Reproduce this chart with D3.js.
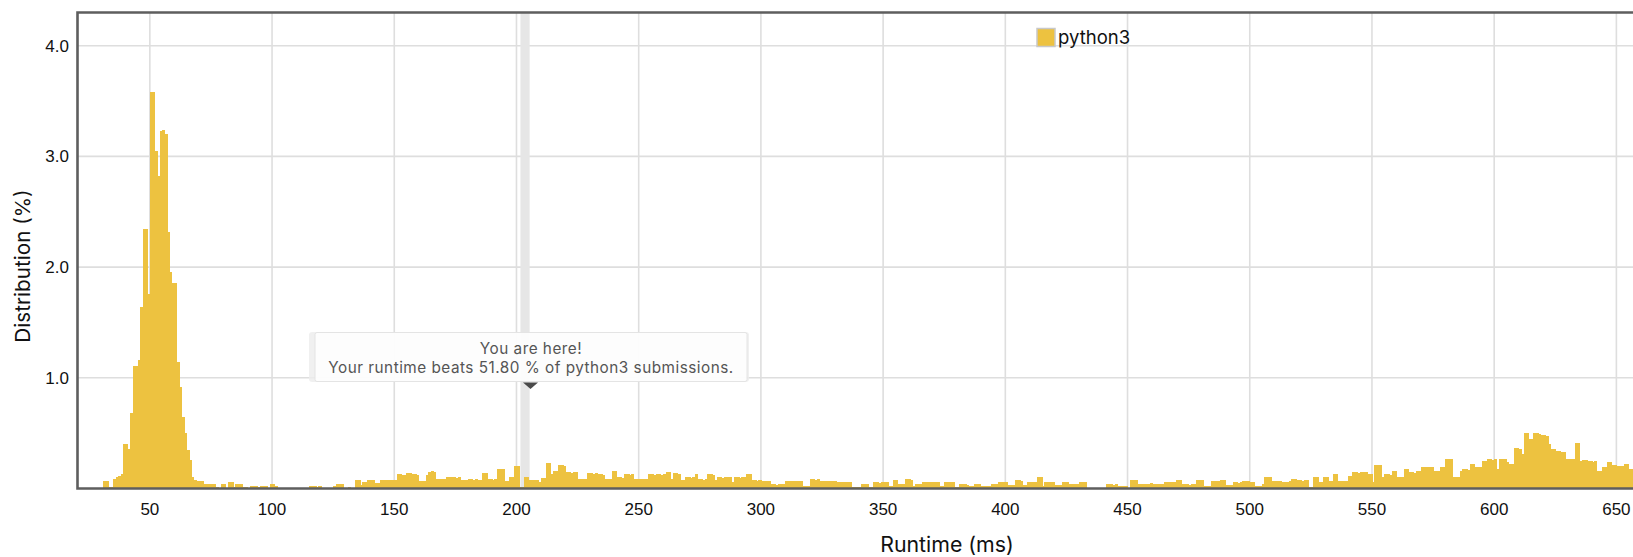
<!DOCTYPE html>
<html>
<head>
<meta charset="utf-8">
<script src="https://cdn.jsdelivr.net/npm/d3@7/dist/d3.min.js"></script>
<style>
  body { margin: 0; background: #fff; }
  svg { display: block; font-family: Inter, "Helvetica Neue", Arial, sans-serif; }
  .num { font-family: "Helvetica Neue", Helvetica, Arial, "Liberation Sans", sans-serif; }
</style>
</head>
<body>
<svg id="chart" width="1633" height="557"></svg>
<script>
// runtime distribution (% of submissions), one value per ms starting at 30 ms
const firstRuntime = 30;
const distribution = [
  0, 0.066, 0.066, 0.015, 0.015, 0.09, 0.1, 0.11, 0.135, 0.405,
  0.405, 0.355, 0.68, 1.11, 1.11, 1.16, 1.64, 2.34, 2.34, 1.76,
  3.58, 3.58, 3.05, 2.82, 3.23, 3.24, 3.2, 2.32, 1.96, 1.86,
  1.86, 1.14, 0.92, 0.65, 0.5, 0.345, 0.255, 0.1, 0.08, 0.07,
  0.07, 0.07, 0.045, 0.045, 0.04, 0.045, 0.045, 0.01, 0, 0.04,
  0.04, 0, 0.06, 0.06, 0.015, 0.04, 0.04, 0.04, 0.015, 0.015,
  0, 0.02, 0.02, 0.02, 0.015, 0.02, 0.02, 0.02, 0, 0.04,
  0.04, 0.02, 0, 0, 0, 0, 0, 0, 0, 0,
  0, 0, 0, 0, 0, 0.02, 0.02, 0.02, 0.015, 0.02,
  0, 0, 0, 0, 0, 0.02, 0.04, 0.04, 0.04, 0,
  0, 0.015, 0, 0, 0.08, 0.08, 0.033, 0.06, 0.06, 0.08,
  0.08, 0.075, 0.05, 0.05, 0.08, 0.075, 0.08, 0.08, 0.075, 0.08,
  0.08, 0.13, 0.13, 0.125, 0.12, 0.14, 0.14, 0.13, 0.13, 0.125,
  0.07, 0.07, 0.07, 0.12, 0.15, 0.155, 0.15, 0.09, 0.09, 0.09,
  0.085, 0.1, 0.1, 0.1, 0.1, 0.095, 0.1, 0.08, 0.08, 0.075,
  0.085, 0.085, 0.08, 0.085, 0.078, 0.08, 0.14, 0.14, 0.085, 0.085,
  0.08, 0.085, 0.18, 0.18, 0.175, 0.07, 0.07, 0.1, 0.1, 0.2,
  0.2, 0.01, 0.01, 0.1, 0.1, 0.08, 0.08, 0.075, 0.08, 0.06,
  0.095, 0.095, 0.23, 0.23, 0.13, 0.16, 0.16, 0.21, 0.21, 0.205,
  0.145, 0.145, 0.14, 0.145, 0.145, 0.09, 0.09, 0.085, 0.09, 0.14,
  0.14, 0.135, 0.14, 0.13, 0.13, 0.125, 0.09, 0.09, 0.09, 0.16,
  0.16, 0.1, 0.1, 0.095, 0.13, 0.13, 0.125, 0.13, 0.09, 0.09,
  0.085, 0.09, 0.09, 0.09, 0.13, 0.13, 0.125, 0.13, 0.13, 0.125,
  0.13, 0.145, 0.145, 0.085, 0.14, 0.14, 0.135, 0.075, 0.075, 0.1,
  0.1, 0.095, 0.1, 0.13, 0.085, 0.085, 0.08, 0.085, 0.13, 0.13,
  0.125, 0.075, 0.1, 0.1, 0.095, 0.1, 0.1, 0.1, 0.063, 0.1,
  0.1, 0.095, 0.1, 0.1, 0.13, 0.13, 0.075, 0.075, 0.07, 0.075,
  0.07, 0.07, 0.065, 0.07, 0.04, 0.04, 0.035, 0.04, 0.04, 0.04,
  0.07, 0.07, 0.07, 0.065, 0.07, 0.07, 0.07, 0.025, 0.025, 0.02,
  0.085, 0.085, 0.08, 0.085, 0.07, 0.07, 0.065, 0.07, 0.07, 0.065,
  0.07, 0.06, 0.06, 0.055, 0.06, 0.06, 0.06, 0.015, 0.015, 0.015,
  0.015, 0.04, 0.04, 0.04, 0.015, 0.015, 0.055, 0.055, 0.05, 0.055,
  0.055, 0.055, 0.025, 0.025, 0.075, 0.075, 0.04, 0.04, 0.04, 0.085,
  0.085, 0.08, 0.025, 0.04, 0.04, 0.04, 0.063, 0.063, 0.06, 0.063,
  0.06, 0.06, 0.06, 0.025, 0.025, 0.06, 0.06, 0.055, 0.06, 0.01,
  0.01, 0.04, 0.04, 0.04, 0.035, 0.025, 0.025, 0.04, 0.04, 0.04,
  0.02, 0.02, 0.02, 0.02, 0.045, 0.045, 0.045, 0.06, 0.06, 0.055,
  0.06, 0.033, 0.033, 0.03, 0.075, 0.075, 0.07, 0.033, 0.033, 0.06,
  0.06, 0.055, 0.06, 0.105, 0.105, 0.025, 0.063, 0.063, 0.06, 0.063,
  0.033, 0.033, 0.03, 0.055, 0.055, 0.055, 0.04, 0.04, 0.04, 0.04,
  0.06, 0.06, 0.06, 0, 0, 0, 0, 0, 0, 0,
  0, 0.04, 0.04, 0.04, 0.035, 0.04, 0.025, 0.025, 0.025, 0.02,
  0, 0.075, 0.075, 0.075, 0.045, 0.045, 0.04, 0.045, 0.045, 0.05,
  0.045, 0.045, 0.04, 0.045, 0.045, 0.06, 0.06, 0.055, 0.06, 0.06,
  0.075, 0.075, 0.04, 0.04, 0.04, 0.035, 0.04, 0.04, 0.075, 0.075,
  0.075, 0.025, 0.025, 0.025, 0.07, 0.07, 0.065, 0.07, 0.075, 0.075,
  0.033, 0.033, 0.033, 0.055, 0.055, 0.05, 0.055, 0.07, 0.07, 0.07,
  0.055, 0.055, 0.025, 0.025, 0.025, 0.045, 0.105, 0.105, 0.1, 0.07,
  0.07, 0.065, 0.07, 0.055, 0.055, 0.055, 0.07, 0.09, 0.09, 0.075,
  0.075, 0.07, 0.075, 0.075, 0.01, 0.01, 0.105, 0.105, 0.055, 0.055,
  0.105, 0.105, 0.07, 0.07, 0.13, 0.13, 0.07, 0.07, 0.065, 0.07,
  0.115, 0.115, 0.145, 0.145, 0.14, 0.15, 0.15, 0.15, 0.13, 0.13,
  0.055, 0.21, 0.21, 0.21, 0.105, 0.13, 0.13, 0.125, 0.16, 0.16,
  0.105, 0.105, 0.1, 0.18, 0.18, 0.145, 0.145, 0.14, 0.16, 0.16,
  0.195, 0.195, 0.19, 0.195, 0.195, 0.16, 0.16, 0.16, 0.195, 0.195,
  0.265, 0.265, 0.265, 0.1, 0.1, 0.1, 0.16, 0.175, 0.175, 0.17,
  0.22, 0.22, 0.195, 0.195, 0.19, 0.25, 0.25, 0.265, 0.265, 0.26,
  0.265, 0.175, 0.265, 0.265, 0.265, 0.235, 0.225, 0.225, 0.363, 0.363,
  0.36, 0.31, 0.5, 0.5, 0.445, 0.445, 0.5, 0.5, 0.495, 0.48,
  0.48, 0.475, 0.4, 0.36, 0.36, 0.34, 0.34, 0.33, 0.33, 0.27,
  0.27, 0.27, 0.265, 0.415, 0.415, 0.25, 0.255, 0.255, 0.245, 0.245,
  0.24, 0.245, 0.155, 0.155, 0.19, 0.19, 0.24, 0.24, 0.21, 0.21,
  0.205, 0.2, 0.2, 0.22, 0.22, 0.18, 0.18
];
const runtimes = distribution.map((_, i) => firstRuntime + i);

const xTickValues = [50, 100, 150, 200, 250, 300, 350, 400, 450, 500, 550, 600, 650];
const yTickValues = [1.0, 2.0, 3.0, 4.0];
const seriesName = "python3";
const yourRuntime = 203.5;
const beatsPct = "51.80";

const color = "#edc240";

const svg = d3.select("#chart");
const plotL = 77.5, plotT = 12.5, plotB = 488.5, plotR = 1680;

const x = d3.scaleLinear().domain([20.2, 657]).range([77, 1633.5]);
const y = d3.scaleLinear().domain([0, 4.3]).range([plotB, plotT]);

svg.append("defs").append("clipPath").attr("id", "plotclip")
  .append("rect").attr("x", plotL).attr("y", plotT).attr("width", plotR - plotL).attr("height", plotB - plotT);

// grid
const grid = svg.append("g").attr("stroke", "#dedede").attr("stroke-width", 1.6);
grid.selectAll("line.v").data(xTickValues).join("line").attr("class", "v")
  .attr("x1", d => x(d)).attr("x2", d => x(d))
  .attr("y1", plotT).attr("y2", plotB);
grid.selectAll("line.h").data(yTickValues).join("line").attr("class", "h")
  .attr("x1", plotL).attr("x2", plotR)
  .attr("y1", d => y(d)).attr("y2", d => y(d));

// your runtime band
svg.append("rect")
  .attr("x", x(yourRuntime) - 4.6).attr("y", plotT)
  .attr("width", 9.2).attr("height", plotB - plotT)
  .attr("fill", "#e6e6e6");

// bars
svg.append("g").attr("clip-path", "url(#plotclip)").attr("shape-rendering", "crispEdges")
  .selectAll("rect").data(runtimes).join("rect")
  .attr("x", d => x(d))
  .attr("width", d => x(d + 1) - x(d) + 0.6)
  .attr("y", (d, i) => y(distribution[i]))
  .attr("height", (d, i) => y(0) - y(distribution[i]))
  .attr("fill", color);

// frame
svg.append("path")
  .attr("d", `M${plotR},${plotT}H${plotL}V${plotB}H${plotR}`)
  .attr("fill", "none").attr("stroke", "#5e5e5e").attr("stroke-width", 2.6);

// tick labels
svg.append("g").attr("class", "num").selectAll("text").data(xTickValues).join("text")
  .attr("x", d => x(d)).attr("y", 515)
  .attr("text-anchor", "middle").attr("font-size", 17).attr("fill", "#111")
  .text(d => d);
svg.append("g").attr("class", "num").selectAll("text").data(yTickValues).join("text")
  .attr("x", 69).attr("y", d => y(d) + 6)
  .attr("text-anchor", "end").attr("font-size", 17).attr("fill", "#111")
  .text(d => d3.format(".1f")(d));

// axis titles
svg.append("text").attr("x", 947).attr("y", 552)
  .attr("text-anchor", "middle").attr("font-size", 21.3).attr("fill", "#111")
  .text("Runtime (ms)");
svg.append("text").attr("transform", "translate(30,266) rotate(-90)")
  .attr("text-anchor", "middle").attr("font-size", 20.7).attr("fill", "#111")
  .text("Distribution (%)");

// legend
svg.append("rect").attr("x", 1037).attr("y", 28.5).attr("width", 18).attr("height", 18)
  .attr("fill", color).attr("stroke", "#c8c8c8").attr("stroke-width", 1.5);
svg.append("text").attr("x", 1058).attr("y", 43.5).attr("font-size", 18.5).attr("fill", "#111")
  .text(seriesName);

// tooltip
const tip = svg.append("g");
tip.append("rect").attr("x", 309).attr("y", 332).attr("width", 440).attr("height", 50)
  .attr("rx", 3).attr("fill", "#ececec").attr("opacity", 0.8);
tip.append("rect").attr("x", 315).attr("y", 332.5).attr("width", 432).attr("height", 49)
  .attr("rx", 2).attr("fill", "#fff").attr("fill-opacity", 0.85)
  .attr("stroke", "#e4e4e4").attr("stroke-width", 1);
tip.append("text").attr("x", 531).attr("y", 353.5).attr("text-anchor", "middle")
  .attr("font-size", 15.3).attr("letter-spacing", 0.5).attr("fill", "#555").text("You are here!");
tip.append("text").attr("x", 531).attr("y", 373).attr("text-anchor", "middle")
  .attr("font-size", 15.3).attr("letter-spacing", 0.5).attr("fill", "#555")
  .text(`Your runtime beats ${beatsPct} % of ${seriesName} submissions.`);
tip.append("path").attr("d", "M523,382.5L538,382.5L530.5,389Z").attr("fill", "#4a4a4a");
</script>
</body>
</html>
